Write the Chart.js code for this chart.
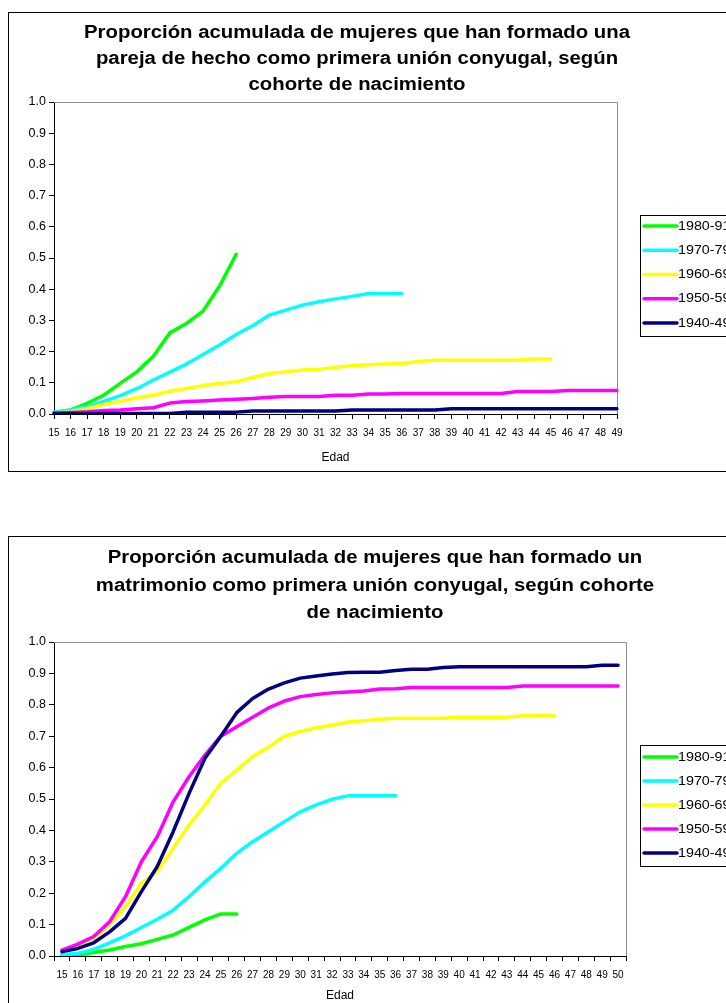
<!DOCTYPE html>
<html>
<head>
<meta charset="utf-8">
<script src="https://cdn.jsdelivr.net/npm/chart.js@4.4.0/dist/chart.umd.min.js"></script>
<style>
    html, body { margin: 0; padding: 0; background: #fff; overflow: hidden; width: 726px; height: 1003px; }
    .box { position: absolute; left: 8px; width: 760px; border: 1px solid #000; background: #fff; }
    #box1 { top: 12px; height: 458px; }
    #box2 { top: 536px; height: 472px; }
    canvas { display: block; }
</style>
</head>
<body>
<div class="box" id="box1"><canvas id="chart-pareja" width="760" height="458"></canvas></div>
<div class="box" id="box2"><canvas id="chart-matrimonio" width="760" height="472"></canvas></div>

<script>
// ===== Data =====
const cohortLabels = ["1980-91", "1970-79", "1960-69", "1950-59", "1940-49"];

// edades 15..49 (pareja de hecho)
const edadesPareja = ["15", "16", "17", "18", "19", "20", "21", "22", "23", "24", "25", "26", "27", "28", "29", "30", "31", "32",
    "33", "34", "35", "36", "37", "38", "39", "40", "41", "42", "43", "44", "45", "46", "47", "48", "49"];

const pareja1980 = [0.006, 0.013, 0.034, 0.06, 0.098, 0.135, 0.185, 0.26, 0.29, 0.33, 0.41, 0.512];
const pareja1970 = [0.006, 0.013, 0.024, 0.04, 0.059, 0.081, 0.109, 0.134, 0.16, 0.191, 0.221, 0.255, 0.283, 0.317,
    0.333, 0.349, 0.36, 0.369, 0.377, 0.386, 0.386, 0.386];
const pareja1960 = [0.003, 0.007, 0.018, 0.031, 0.04, 0.052, 0.06, 0.073, 0.082, 0.091, 0.098, 0.103, 0.117, 0.13,
    0.135, 0.141, 0.143, 0.15, 0.155, 0.158, 0.16, 0.162, 0.168, 0.172, 0.172, 0.172, 0.172, 0.172, 0.172, 0.176, 0.176];
const pareja1950 = [0.003, 0.005, 0.007, 0.011, 0.013, 0.017, 0.02, 0.035, 0.04, 0.042, 0.045, 0.047, 0.05, 0.054,
    0.056, 0.056, 0.056, 0.06, 0.06, 0.064, 0.064, 0.066, 0.066, 0.066, 0.066, 0.066, 0.066, 0.066, 0.072, 0.072,
    0.072, 0.075, 0.075, 0.075, 0.075];
const pareja1940 = [0.002, 0.002, 0.002, 0.002, 0.002, 0.002, 0.002, 0.002, 0.006, 0.006, 0.006, 0.006, 0.01, 0.01,
    0.01, 0.01, 0.01, 0.01, 0.013, 0.013, 0.013, 0.013, 0.013, 0.013, 0.017, 0.017, 0.017, 0.017, 0.017, 0.017,
    0.017, 0.017, 0.017, 0.017, 0.017];

// edades 15..50 (matrimonio)
const edadesMatrimonio = ["15", "16", "17", "18", "19", "20", "21", "22", "23", "24", "25", "26", "27", "28", "29", "30", "31",
    "32", "33", "34", "35", "36", "37", "38", "39", "40", "41", "42", "43", "44", "45", "46", "47", "48", "49", "50"];

const matrimonio1980 = [0.003, 0.003, 0.011, 0.019, 0.03, 0.039, 0.053, 0.067, 0.091, 0.115, 0.134, 0.134];
const matrimonio1970 = [0.005, 0.008, 0.021, 0.042, 0.064, 0.091, 0.117, 0.146, 0.189, 0.236, 0.279, 0.327, 0.364,
    0.396, 0.428, 0.459, 0.481, 0.499, 0.51, 0.51, 0.51, 0.51];
const matrimonio1960 = [0.017, 0.032, 0.056, 0.099, 0.157, 0.231, 0.269, 0.343, 0.417, 0.481, 0.55, 0.592, 0.635,
    0.665, 0.70, 0.715, 0.727, 0.735, 0.745, 0.749, 0.754, 0.757, 0.757, 0.757, 0.757, 0.76, 0.76, 0.76, 0.76,
    0.765, 0.765, 0.765];
const matrimonio1950 = [0.019, 0.038, 0.062, 0.109, 0.189, 0.30, 0.38, 0.491, 0.571, 0.64, 0.70, 0.73, 0.76, 0.79,
    0.812, 0.826, 0.833, 0.838, 0.841, 0.844, 0.85, 0.851, 0.855, 0.855, 0.855, 0.855, 0.855, 0.855, 0.855, 0.86,
    0.86, 0.86, 0.86, 0.86, 0.86, 0.86];
const matrimonio1940 = [0.014, 0.024, 0.042, 0.077, 0.12, 0.205, 0.285, 0.396, 0.518, 0.63, 0.70, 0.775, 0.82, 0.85,
    0.87, 0.885, 0.892, 0.898, 0.903, 0.904, 0.904, 0.909, 0.913, 0.913, 0.919, 0.921, 0.921, 0.921, 0.921, 0.921,
    0.921, 0.921, 0.921, 0.921, 0.926, 0.926];

const yTicks = ["0.0", "0.1", "0.2", "0.3", "0.4", "0.5", "0.6", "0.7", "0.8", "0.9", "1.0"];

const cohortColors = ["#00FF00", "#00FFFF", "#FFFF00", "#FF00FF", "#000080"];
const FONT = "'Liberation Sans', Arial, sans-serif";

// ===== Plugins =====
// gray frame on top and right of the plot area (Excel style)
const plotFrame = {
    id: "plotFrame",
    beforeDatasetsDraw(chart) {
        const { ctx, chartArea: a } = chart;
        ctx.save();
        ctx.strokeStyle = "#8c8c8c";
        ctx.lineWidth = 1;
        ctx.beginPath();
        ctx.moveTo(a.left, a.top + 0.5);
        ctx.lineTo(a.right + 0.5, a.top + 0.5);
        ctx.lineTo(a.right + 0.5, a.bottom);
        ctx.stroke();
        ctx.restore();
    }
};

// title text is a bit wider than a plain 18px bold font in the original
const boxTitle = {
    id: "boxTitle",
    afterDraw(chart, args, o) {
        const ctx = chart.ctx;
        ctx.save();
        ctx.font = "bold 18px " + FONT;
        ctx.fillStyle = "#000";
        ctx.textAlign = "center";
        ctx.textBaseline = "alphabetic";
        ctx.translate(o.x, 0);
        ctx.scale(1.13, 1);
        o.lines.forEach((t, i) => ctx.fillText(t, 0, o.baselines[i]));
        ctx.restore();
    }
};

const boxLegend = {
    id: "boxLegend",
    afterDraw(chart, args, o) {
        const ctx = chart.ctx;
        ctx.save();
        ctx.strokeStyle = "#000";
        ctx.lineWidth = 1;
        ctx.strokeRect(o.left + 0.5, o.top + 0.5, 120, o.height);
        chart.data.datasets.forEach((ds, i) => {
            const y = o.firstY + i * o.step;
            ctx.strokeStyle = ds.borderColor;
            ctx.lineWidth = 3.5;
            ctx.lineCap = "round";
            ctx.beginPath();
            ctx.moveTo(o.left + 4, y);
            ctx.lineTo(o.left + 37, y);
            ctx.stroke();
            ctx.save();
            ctx.font = "13px " + FONT;
            ctx.textBaseline = "middle";
            ctx.fillStyle = "#000";
            ctx.translate(o.left + 38, y);
            ctx.scale(1.1, 1);
            ctx.fillText(ds.label, 0, 0);
            ctx.restore();
        });
        ctx.restore();
    }
};

// ===== Builders =====
function makeDatasets(series) {
    return series.map((data, i) => ({
        label: cohortLabels[i],
        data: data,
        borderColor: cohortColors[i],
        backgroundColor: cohortColors[i],
        borderWidth: 3.5,
        borderCapStyle: "round",
        borderJoinStyle: "round",
        pointRadius: 0,
        tension: 0,
        fill: false,
        order: 4 - i
    }));
}

function makeChart(canvasId, labels, series, lay) {
    const ctx = document.getElementById(canvasId).getContext("2d");
    return new Chart(ctx, {
        type: "line",
        data: { labels: labels, datasets: makeDatasets(series) },
        options: {
            responsive: false,
            animation: false,
            layout: { padding: { left: 0, top: lay.plotTop, right: lay.width - lay.plotRight, bottom: 0 } },
            plugins: {
                legend: { display: false },
                title: { display: false },
                tooltip: { enabled: false },
                boxTitle: lay.title,
                boxLegend: lay.legend
            },
            scales: {
                x: {
                    type: "category",
                    offset: lay.offset,
                    grid: { display: true, offset: lay.offset, drawOnChartArea: false, color: "#000", tickLength: 5 },
                    border: { display: true, color: "#000", width: 1 },
                    ticks: {
                        autoSkip: false, maxRotation: 0, minRotation: 0, padding: 8,
                        color: "#000", font: { family: FONT, size: 10 }
                    },
                    title: {
                        display: true, text: "Edad", color: "#000",
                        font: { family: FONT, size: 12 }, padding: { top: 0, bottom: 6.5 }
                    },
                    afterFit(scale) { scale.height = lay.height - lay.plotBottom; }
                },
                y: {
                    min: 0, max: 1,
                    grid: { display: true, drawOnChartArea: false, color: "#000", tickLength: 5 },
                    border: { display: true, color: "#000", width: 1 },
                    ticks: {
                        stepSize: 0.1, padding: 3, color: "#000",
                        font: { family: FONT, size: 12.5 },
                        callback: (v, i) => yTicks[i]
                    },
                    afterFit(scale) { scale.width = lay.plotLeft; }
                }
            }
        },
        plugins: [plotFrame, boxTitle, boxLegend]
    });
}

// ===== Charts =====
makeChart("chart-pareja", edadesPareja,
    [pareja1980, pareja1970, pareja1960, pareja1950, pareja1940], {
        width: 760, height: 458, plotLeft: 45, plotRight: 608, plotTop: 89, plotBottom: 401, offset: false,
        title: {
            x: 348, baselines: [24.5, 50.5, 76.5],
            lines: ["Proporción acumulada de mujeres que han formado una",
                "pareja de hecho como primera unión conyugal, según",
                "cohorte de nacimiento"]
        },
        legend: { left: 631, top: 202, height: 121, firstY: 213, step: 24.25 }
    });

makeChart("chart-matrimonio", edadesMatrimonio,
    [matrimonio1980, matrimonio1970, matrimonio1960, matrimonio1950, matrimonio1940], {
        width: 760, height: 472, plotLeft: 45, plotRight: 617, plotTop: 105, plotBottom: 419, offset: true,
        title: {
            x: 366, baselines: [26.3, 53.7, 81.3],
            lines: ["Proporción acumulada de mujeres que han formado un",
                "matrimonio como primera unión conyugal, según cohorte",
                "de nacimiento"]
        },
        legend: { left: 631, top: 208, height: 121, firstY: 220, step: 24 }
    });
</script>
</body>
</html>
